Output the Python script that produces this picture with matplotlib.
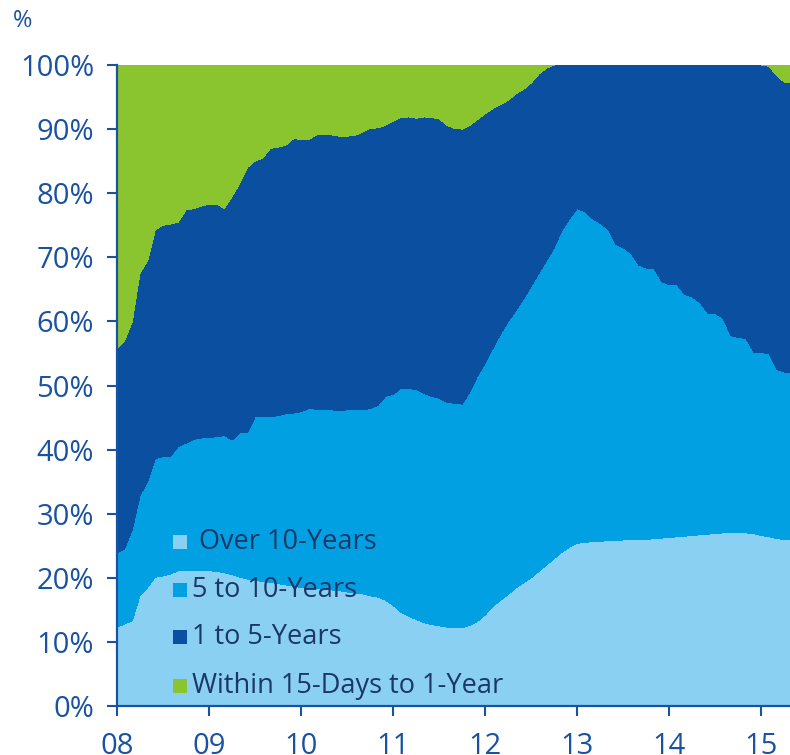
import matplotlib
matplotlib.use("Agg")
import matplotlib.pyplot as plt
import numpy as np
from matplotlib.patches import Rectangle

plt.rcParams['font.family'] = ['Open Sans', 'DejaVu Sans']

# monthly observations starting Jan 2008
start_year = 2008.0
n_months = 89
years = start_year + np.arange(n_months) / 12.0

over_10 = [12.3, 12.8, 13.3, 17.2, 18.5, 20.1, 20.3, 20.6, 21.1, 21.1, 21.1, 21.1,
           21.1, 21.0, 20.8, 20.5, 20.1, 19.8, 19.6, 19.4, 19.3, 19.1, 18.9, 18.7,
           18.5, 18.4, 18.3, 18.2, 18.1, 18.0, 17.8, 17.6, 17.5, 17.2, 17.0, 16.5,
           15.7, 14.6, 14.0, 13.5, 13.0, 12.7, 12.5, 12.3, 12.2, 12.2, 12.6, 13.2,
           14.2, 15.5, 16.5, 17.4, 18.4, 19.2, 20.0, 21.0, 22.0, 23.0, 24.0, 24.8,
           25.4, 25.5, 25.7, 25.7, 25.8, 25.8, 25.9, 26.0, 26.0, 26.0, 26.1, 26.2,
           26.3, 26.4, 26.5, 26.6, 26.7, 26.8, 26.9, 27.0, 27.0, 27.0, 27.0, 26.9,
           26.6, 26.4, 26.1, 26.0, 26.0]
five_to_ten = [11.6, 11.7, 14.2, 15.6, 16.5, 18.5, 18.6, 18.4, 19.4, 19.9, 20.5, 20.7,
               20.8, 21.0, 21.4, 21.0, 22.5, 22.8, 25.5, 25.7, 25.8, 26.2, 26.7, 27.0,
               27.4, 28.0, 28.0, 28.0, 28.1, 28.1, 28.4, 28.6, 28.7, 29.2, 29.9, 31.8,
               32.9, 35.0, 35.5, 35.9, 35.8, 35.6, 35.5, 35.1, 35.0, 34.9, 36.4, 38.3,
               39.3, 40.3, 41.5, 42.6, 43.3, 44.3, 45.5, 46.5, 47.5, 48.5, 50.2, 51.2,
               52.2, 51.6, 50.3, 49.6, 48.6, 46.2, 45.6, 44.6, 42.8, 42.3, 42.1, 40.0,
               39.4, 39.3, 37.7, 37.2, 36.2, 34.5, 34.3, 33.5, 30.8, 30.5, 30.3, 28.3,
               28.5, 28.6, 26.4, 26.1, 26.1]
one_to_five = [31.9, 32.5, 32.5, 34.7, 34.5, 35.7, 36.1, 36.2, 35.0, 36.4, 36.0, 36.2,
               36.4, 36.3, 35.4, 38.0, 38.9, 41.4, 39.9, 40.4, 41.9, 41.9, 41.9, 42.8,
               42.5, 42.0, 42.8, 42.9, 42.9, 42.8, 42.7, 42.8, 43.3, 43.7, 43.3, 42.3,
               42.6, 42.2, 42.4, 42.3, 43.1, 43.5, 43.6, 43.2, 42.9, 42.9, 41.6, 40.0,
               38.9, 37.4, 35.8, 34.5, 33.8, 32.7, 31.7, 31.1, 30.0, 28.5, 25.8, 24.0,
               22.4, 22.9, 24.0, 24.7, 25.6, 28.0, 28.5, 29.4, 31.2, 31.7, 31.8, 33.8,
               34.3, 34.3, 35.8, 36.2, 37.1, 38.7, 38.8, 39.5, 42.2, 42.5, 42.7, 44.8,
               44.9, 44.8, 45.8, 45.2, 45.2]
within_1y = [44.2, 43.0, 40.0, 32.5, 30.5, 25.7, 25.0, 24.8, 24.5, 22.6, 22.4, 22.0,
             21.7, 21.7, 22.4, 20.5, 18.5, 16.0, 15.0, 14.5, 13.0, 12.8, 12.5, 11.5,
             11.6, 11.6, 10.9, 10.9, 10.9, 11.1, 11.1, 11.0, 10.5, 9.9, 9.8, 9.4,
             8.8, 8.2, 8.1, 8.3, 8.1, 8.2, 8.4, 9.4, 9.9, 10.0, 9.4, 8.5,
             7.6, 6.8, 6.2, 5.5, 4.5, 3.8, 2.8, 1.4, 0.5, 0.0, 0.0, 0.0,
             0.0, 0.0, 0.0, 0.0, 0.0, 0.0, 0.0, 0.0, 0.0, 0.0, 0.0, 0.0,
             0.0, 0.0, 0.0, 0.0, 0.0, 0.0, 0.0, 0.0, 0.0, 0.0, 0.0, 0.0,
             0.0, 0.2, 1.7, 2.7, 2.7]

labels = [" Over 10-Years", "5 to 10-Years", "1 to 5-Years", "Within 15-Days to 1-Year"]
colors = ["#89D0F2", "#00A0E3", "#0A4FA0", "#8AC530"]
x_ticks = [2008, 2009, 2010, 2011, 2012, 2013, 2014, 2015]
x_tick_labels = ["08", "09", "10", "11", "12", "13", "14", "15"]
y_ticks = [0, 10, 20, 30, 40, 50, 60, 70, 80, 90, 100]

axis_col = "#1A52A3"
legend_col = "#1C3766"

fig = plt.figure(figsize=(7.9, 7.55), dpi=100)
ax = fig.add_axes([117/790, 1-706/755, 1-117/790, (706-65)/755])

ax.stackplot(years, over_10, five_to_ten, one_to_five, within_1y,
             colors=colors, linewidth=0, antialiased=False)

ax.set_xlim(2008, 2015.31)
ax.set_ylim(0, 100)
ax.set_xticks(x_ticks)
ax.set_xticklabels(x_tick_labels)
ax.set_yticks(y_ticks)
ax.set_yticklabels([f"{v}%" for v in y_ticks])

for s in ["top", "right"]:
    ax.spines[s].set_visible(False)
for s in ["left", "bottom"]:
    ax.spines[s].set_color(axis_col)
    ax.spines[s].set_linewidth(1.6)
    ax.spines[s].set_zorder(5)

ax.tick_params(axis="both", direction="out", length=7.5, width=1.5, color=axis_col,
               labelcolor=axis_col, labelsize=21)
ax.tick_params(axis="y", pad=9)
ax.tick_params(axis="x", pad=11)

fig.text(13/790, 1-21/755, "%", color=axis_col, fontsize=17, va="center", ha="left")

# legend drawn manually
leg_y = [542, 590, 637, 686]
for lab, col, yy in zip(labels, colors, leg_y):
    fig.patches.append(Rectangle((173/790, 1-(yy+7)/755), 14/790, 14/755,
                                 transform=fig.transFigure, facecolor=col,
                                 edgecolor="none", zorder=10))
    fig.text(192/790, 1-yy/755, lab, color=legend_col, fontsize=19.5,
             va="center", ha="left", zorder=11)

fig.savefig("out.png", dpi=100)
